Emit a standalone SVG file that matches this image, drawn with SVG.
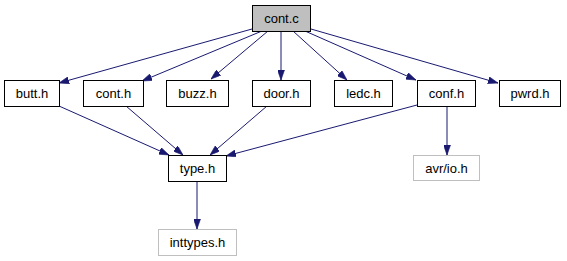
<svg xmlns="http://www.w3.org/2000/svg" width="567" height="261" viewBox="0 0 567 261">
  <style>
    .node rect { fill: #ffffff; stroke: #000000; stroke-width: 1; }
    .node.root rect { fill: #bfbfbf; }
    .node.ext rect { stroke: #bfbfbf; }
    .node text { font-family: "Liberation Sans", Arial, sans-serif; font-size: 13px; fill: #000000; text-anchor: middle; }
    .edges path { fill: none; stroke: #191970; stroke-width: 1; marker-end: url(#arrow); }
  </style>
  <defs>
    <marker id="arrow" markerUnits="userSpaceOnUse" viewBox="0 0 10 7" refX="10" refY="3.5" markerWidth="10" markerHeight="7" orient="auto">
      <path d="M0,0 L10,3.5 L0,7 z" fill="#191970" stroke="#191970" stroke-width="0.6"/>
    </marker>
  </defs>
  <rect width="567" height="261" fill="#ffffff"/>

  <g class="edges">
    <path d="M252,29 L59,83"/>
    <path d="M262,31 L142,81"/>
    <path d="M268,31 L211,79"/>
    <path d="M281,31 L281,80"/>
    <path d="M293,31 L347,80"/>
    <path d="M305,31 L416,80"/>
    <path d="M311,29 L498,83"/>
    <path d="M59,106 L169,155"/>
    <path d="M126,106 L183,155"/>
    <path d="M267,106 L210,155"/>
    <path d="M417,105 L226,156"/>
    <path d="M447,106 L447,155"/>
    <path d="M197,181 L197,229"/>
  </g>

  <g id="node-cont-c" class="node root">
    <rect x="252.5" y="5.5" width="58" height="26"/>
    <text x="281.5" y="23">cont.c</text>
  </g>
  <g id="node-butt-h" class="node">
    <rect x="4.5" y="80.5" width="55" height="26"/>
    <text x="32" y="98">butt.h</text>
  </g>
  <g id="node-cont-h" class="node">
    <rect x="83.5" y="80.5" width="60" height="26"/>
    <text x="113.5" y="98">cont.h</text>
  </g>
  <g id="node-buzz-h" class="node">
    <rect x="166.5" y="80.5" width="62" height="26"/>
    <text x="197.5" y="98">buzz.h</text>
  </g>
  <g id="node-door-h" class="node">
    <rect x="252.5" y="80.5" width="58" height="26"/>
    <text x="281.5" y="98">door.h</text>
  </g>
  <g id="node-ledc-h" class="node">
    <rect x="334.5" y="80.5" width="58" height="26"/>
    <text x="363.5" y="98">ledc.h</text>
  </g>
  <g id="node-conf-h" class="node">
    <rect x="417.5" y="80.5" width="58" height="26"/>
    <text x="446.5" y="98">conf.h</text>
  </g>
  <g id="node-pwrd-h" class="node">
    <rect x="499.5" y="80.5" width="61" height="26"/>
    <text x="530" y="98">pwrd.h</text>
  </g>
  <g id="node-type-h" class="node">
    <rect x="168.5" y="155.5" width="58" height="26"/>
    <text x="197.5" y="173">type.h</text>
  </g>
  <g id="node-avr-io-h" class="node ext">
    <rect x="413.5" y="155.5" width="66" height="25"/>
    <text x="446.5" y="173">avr/io.h</text>
  </g>
  <g id="node-inttypes-h" class="node ext">
    <rect x="158.5" y="229.5" width="78" height="26"/>
    <text x="197.5" y="247">inttypes.h</text>
  </g>
</svg>
